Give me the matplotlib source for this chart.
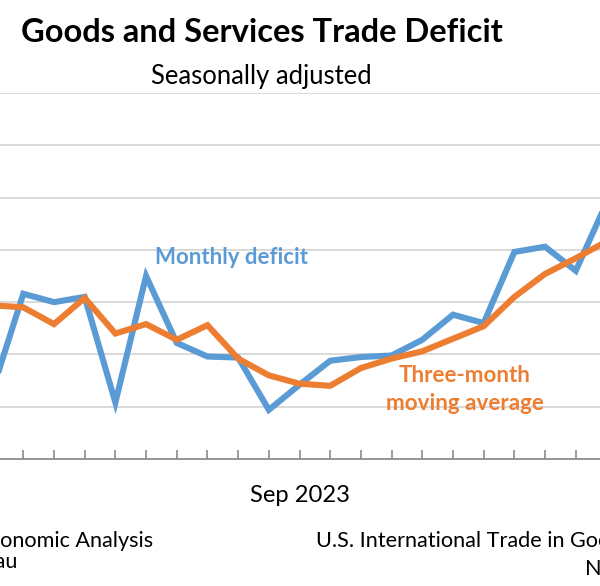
import matplotlib
matplotlib.use("Agg")
import matplotlib.pyplot as plt

plt.rcParams['font.family'] = ['Lato', 'DejaVu Sans']

# ---- data (billions of dollars) ----
months = ['Nov 2022', 'Dec 2022', 'Jan 2023', 'Feb 2023', 'Mar 2023', 'Apr 2023',
          'May 2023', 'Jun 2023', 'Jul 2023', 'Aug 2023', 'Sep 2023', 'Oct 2023',
          'Nov 2023', 'Dec 2023', 'Jan 2024', 'Feb 2024', 'Mar 2024', 'Apr 2024',
          'May 2024', 'Jun 2024', 'Jul 2024']
monthly_deficit = [61.6, 70.8, 70.0, 70.5, 60.4, 72.5, 66.1, 64.8, 64.7, 59.7,
                   62.1, 64.4, 64.75, 64.9, 66.4, 68.8, 68.0, 74.8, 75.3, 73.0, 79.5]
three_month_avg = [69.7, 69.5, 67.9, 70.4, 67.0, 67.9, 66.4, 67.8, 64.6, 63.0,
                   62.2, 62.0, 63.7, 64.6, 65.3, 66.5, 67.7, 70.5, 72.7, 74.2, 75.8]
label_months = ['Sep 2023']
grid_values = [60, 65, 70, 75, 80, 85, 90]

W, H = 600, 586
fig = plt.figure(figsize=(W / 100, H / 100), dpi=100)
fig.patch.set_facecolor('white')

def fx(px):
    return px / W

def fy(py):
    return 1 - py / H

ax = fig.add_axes([0, fy(459), 1, (459 - 93) / H])
x = list(range(len(months)))

blue = '#5B9BD5'
orange = '#ED7D31'

ax.plot(x, monthly_deficit, color=blue, lw=4.4, solid_joinstyle='miter', zorder=3)
ax.plot(x, three_month_avg, color=orange, lw=4.4, solid_joinstyle='miter', zorder=4)

for s in ['top', 'left', 'right']:
    ax.spines[s].set_visible(False)
ax.spines['bottom'].set_color('#8c8c8c')
ax.spines['bottom'].set_linewidth(1.3)

ax.set_yticks(grid_values)
ax.yaxis.grid(True, color='#d9d9d9', lw=1.4)
ax.set_axisbelow(True)
ax.tick_params(axis='y', length=0, labelleft=False)

# tick marks for every month; label only at the labeled month
ax.set_xticks(x, minor=True)
ax.set_xticks([months.index(m) for m in label_months])
ax.set_xticklabels(label_months)
ax.tick_params(axis='x', which='both', direction='in', length=6.5, width=1.2,
               color='#8c8c8c')
ax.tick_params(axis='x', which='major', labelsize=17, pad=19, labelcolor='black')

ax.set_xlim(0.2408, 19.79)
ax.set_ylim(55, 90)

fig.canvas.draw()
renderer = fig.canvas.get_renderer()

def fit(s, width_px, **kw):
    t = fig.text(0, 0, s, fontsize=20, **kw)
    w = t.get_window_extent(renderer).width
    t.remove()
    return 20 * width_px / w

def put(s, px, py, size, ha='left', **kw):
    return fig.text(fx(px), fy(py), s, fontsize=size, ha=ha, va='baseline', **kw)

# title & subtitle
ts = fit('Goods and Services Trade Deficit', 483, fontweight='bold')
put('Goods and Services Trade Deficit', 21, 42, ts, fontweight='bold', color='black')
ss = fit('Seasonally adjusted', 221)
put('Seasonally adjusted', 151, 83.5, ss, color='black')

# series annotations
ms = fit('Monthly deficit', 153, fontweight='bold')
put('Monthly deficit', 155, 264, ms, fontweight='bold', color=blue)
os_ = fit('moving average', 157, fontweight='bold')
put('Three-month', 464.5, 381.7, os_, ha='center', fontweight='bold', color=orange)
put('moving average', 464.5, 410, os_, ha='center', fontweight='bold', color=orange)

# x tick label size
xs = fit('Sep 2023', 100)
for lab in ax.get_xticklabels():
    lab.set_fontsize(xs)

# footer
fs = fit('onomic Analysis', 153)
put('Source: U.S. Bureau of Economic Analysis', 153, 547, fs, ha='right', color='black')
put('and U.S. Census Bureau', 17, 568, fs, ha='right', color='black')
put('U.S. International Trade in Goods and Services', 316, 547, fs, color='black')
put('November 2024', 585, 575, fs, color='black')

fig.savefig('out.png', dpi=100, facecolor='white')
